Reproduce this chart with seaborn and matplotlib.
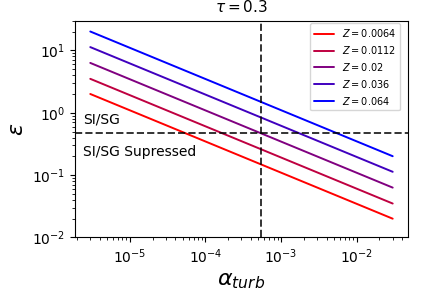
"""
Dust-to-gas ratio needed for SI/SG versus turbulence strength, tau = 0.3.
"""
import matplotlib
matplotlib.use("Agg")
import numpy as np
import pandas as pd
import matplotlib.pyplot as plt
import seaborn as sns

# Data (two end points per line, straight in log-log)
alpha_ends = [3e-6, 3e-2]
z_labels = ["0.0064", "0.0112", "0.02", "0.036", "0.064"]
eps_start = [2.0, 3.5, 6.3, 11.3, 20.1]
eps_end = [0.020, 0.035, 0.063, 0.113, 0.201]
line_colors = [(1.0, 0, 0), (0.75, 0, 0.25), (0.5, 0, 0.5), (0.25, 0, 0.75), (0, 0, 1.0)]

alpha_crit = 5.4e-4
eps_crit = 0.475

sns.set_style("white")
plt.rcParams["font.family"] = ["DejaVu Sans"]
plt.rcParams["xtick.direction"] = "out"
plt.rcParams["ytick.direction"] = "out"
for key in ["text.color", "axes.labelcolor", "xtick.color", "ytick.color"]:
    plt.rcParams[key] = "black"

fig, ax = plt.subplots(figsize=(4.32, 2.91), dpi=100)
fig.subplots_adjust(left=0.174, right=0.944, top=0.929, bottom=0.184)

for z, e0, e1, col in zip(z_labels, eps_start, eps_end, line_colors):
    df = pd.DataFrame({"alpha": alpha_ends, "eps": [e0, e1]})
    sns.lineplot(data=df, x="alpha", y="eps", color=col, linewidth=1.4,
                 label=f"$Z = {z}$", ax=ax)

ax.set_xscale("log")
ax.set_yscale("log")
ax.set_ylim(1e-2, 30)

ax.axvline(alpha_crit, color="k", ls="--", lw=1.4, alpha=0.8)
ax.axhline(eps_crit, color="k", ls="--", lw=1.4, alpha=0.8)

ax.text(2.4e-6, 0.68, "SI/SG", fontsize=10)
ax.text(2.4e-6, 0.2, "SI/SG Supressed", fontsize=10)

ax.set_title(r"$\tau = 0.3$", fontsize=11, pad=6)
ax.set_xlabel(r"$\alpha_{turb}$", fontsize=16)
ax.set_ylabel(r"$\epsilon$", fontsize=16)

for side in ["top", "right", "left", "bottom"]:
    ax.spines[side].set_color("black")
    ax.spines[side].set_linewidth(0.8)
ax.tick_params(which="both", bottom=True, left=True, color="black", labelsize=10)

ax.legend(loc="upper right", bbox_to_anchor=(0.976, 0.988), borderaxespad=0,
          fontsize=7)

fig.savefig("out.png", dpi=100)
